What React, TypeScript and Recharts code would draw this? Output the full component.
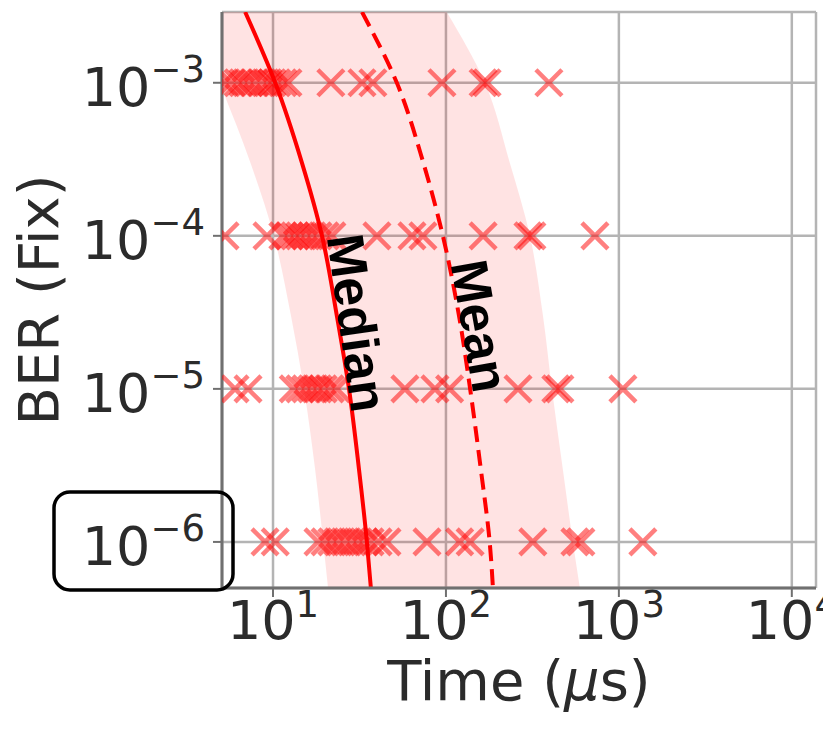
import React from 'react'
import { ComposedChart, XAxis, YAxis, CartesianGrid, Area, Line, Scatter, ReferenceDot, Label } from 'recharts'

// BER levels of the sweep (rows of markers)
const berRows = [1e-3, 1e-4, 1e-5, 1e-6]

// single runs, time in µs, one list per BER row
const runs1e3 = [5.21, 5.72, 6.28, 6.71, 7.27, 7.87, 8.64, 9.36, 9.87, 10.5, 11.4, 12.2, 21.6, 32.7, 37.8, 94.8, 164, 173, 394]
const runs1e4 = [5.28, 9.23, 11.4, 12.4, 13.4, 14.3, 15.5, 16.8, 18.2, 20.0, 21.9, 39.9, 63.6, 73.6, 164, 298, 314, 727]
const runs1e5 = [6.03, 7.17, 13.1, 14.3, 15.5, 16.8, 18.2, 19.5, 21.4, 23.4, 57.9, 86.4, 105, 261, 432, 456, 1055]
const runs1e6 = [8.99, 10.3, 18.2, 20.0, 21.9, 23.8, 26.1, 28.6, 31.0, 33.6, 36.4, 40.5, 45.6, 77.7, 120, 138, 318, 557, 603, 1376]

// fitted curves, read at these BER values
const curveBer = [2.9e-3, 1e-3, 3e-4, 1e-4, 3e-5, 1e-5, 3e-6, 1e-6, 5e-7]
const medianTime = [6.9, 10.3, 14.7, 19.2, 23.4, 27.5, 31.4, 34.9, 36.8]
const meanTime = [32.7, 52, 74, 96, 119, 138, 159, 179, 187]
const bandLow = [3.3, 4.9, 7.4, 10.1, 12.7, 15.1, 17.5, 19.5, 20.8]
const bandHigh = [101, 168, 234, 306, 364, 410, 474, 542, 595]

const xMajor = [10, 100, 1000, 10000]
const xMinor = [6, 7, 8, 9, 20, 30, 40, 50, 60, 70, 80, 90, 200, 300, 400, 500, 600, 700, 800, 900, 2000, 3000, 4000, 5000, 6000, 7000, 8000, 9000]
const yMajor = [1e-6, 1e-5, 1e-4, 1e-3]
const yMinor = [5e-7, 6e-7, 7e-7, 8e-7, 9e-7, 2e-6, 3e-6, 4e-6, 5e-6, 6e-6, 7e-6, 8e-6, 9e-6, 2e-5, 3e-5, 4e-5, 5e-5, 6e-5, 7e-5, 8e-5, 9e-5, 2e-4, 3e-4, 4e-4, 5e-4, 6e-4, 7e-4, 8e-4, 9e-4, 2e-3]

const xDomain = [5.07, 13800]
const yDomain = [5e-7, 2.9e-3]

const notes = [
  { text: 'Median', t: 30.6, ber: 2.7e-5, angle: 82 },
  { text: 'Mean', t: 157, ber: 2.58e-5, angle: 80 },
]

const curveData = curveBer.map((ber, i) => ({
  ber,
  median: medianTime[i],
  mean: meanTime[i],
  band: [bandLow[i], bandHigh[i]],
}))

const runs = [runs1e3, runs1e4, runs1e5, runs1e6].flatMap((row, i) => row.map(t => ({ ber: berRows[i], t })))

const FONT = '"DejaVu Sans", sans-serif'
const INK = '#2b2b2b'
const RED = '#ff0000'
const AXIS = '#707070'

function Cross({ cx, cy }: any) {
  const s = 13
  return (
    <path
      d={`M${cx - s},${cy - s}L${cx + s},${cy + s}M${cx - s},${cy + s}L${cx + s},${cy - s}`}
      stroke={RED}
      strokeOpacity={0.5}
      strokeWidth={4.5}
      fill="none"
    />
  )
}

function XTick({ x, y, payload }: any) {
  const e = Math.round(Math.log10(payload.value))
  return (
    <text x={x} y={y + 36} textAnchor="middle" fontFamily={FONT} fontSize={54} fill={INK}>
      10<tspan fontSize={37} dy={-22}>{e}</tspan>
    </text>
  )
}

function YTick({ x, y, payload }: any) {
  const e = Math.round(Math.log10(payload.value))
  return (
    <g>
      {e === -6 && (
        <rect x={x - 151} y={y - 50} width={179} height={98} rx={16} fill="none" stroke="#000" strokeWidth={3.5} />
      )}
      <text x={x} y={y + 23} textAnchor="end" fontFamily={FONT} fontSize={54} fill={INK}>
        10<tspan fontSize={37} dy={-24}>{'\u2212' + Math.abs(e)}</tspan>
      </text>
    </g>
  )
}

const noTick = () => <g />

export default function App() {
  return (
    <div style={{ position: 'absolute', left: 0, top: 0, width: 823, height: 730, background: '#fff' }}>
      <ComposedChart
        width={823}
        height={730}
        layout="vertical"
        data={curveData}
        margin={{ top: 12, right: 7, bottom: 0, left: 0 }}
      >
        <CartesianGrid stroke="#b4b4b4" strokeWidth={2.5} />

        <XAxis xAxisId="minor" type="number" scale="log" domain={xDomain} allowDataOverflow ticks={xMinor}
          height={0} axisLine={false} tick={noTick} tickSize={5} tickLine={{ stroke: AXIS, strokeWidth: 2 }} />
        <XAxis type="number" scale="log" domain={xDomain} allowDataOverflow ticks={xMajor} height={142}
          axisLine={{ stroke: AXIS, strokeWidth: 3 }} tickLine={{ stroke: AXIS, strokeWidth: 2 }} tickSize={9} tickMargin={6}
          tick={<XTick />} interval={0}>
          <Label
            content={(p: any) => {
              const vb = p.viewBox
              return (
                <text x={vb.x + vb.width / 2} y={vb.y + 112} textAnchor="middle" fontFamily={FONT} fontSize={56} fill={INK}>
                  Time (<tspan fontStyle="italic">μ</tspan>s)
                </text>
              )
            }}
          />
        </XAxis>
        <XAxis xAxisId="top" orientation="top" type="number" scale="log" domain={xDomain} allowDataOverflow
          height={0} tick={false} tickLine={false} axisLine={{ stroke: '#8a8a8a', strokeWidth: 3 }} />

        <YAxis yAxisId="minor" dataKey="ber" type="number" scale="log" domain={yDomain} allowDataOverflow reversed
          ticks={yMinor} width={0} axisLine={false} tick={noTick} tickSize={5} tickLine={{ stroke: AXIS, strokeWidth: 2 }} />
        <YAxis dataKey="ber" type="number" scale="log" domain={yDomain} allowDataOverflow reversed ticks={yMajor}
          width={222} axisLine={{ stroke: AXIS, strokeWidth: 3 }} tickLine={{ stroke: AXIS, strokeWidth: 2 }}
          tickSize={9} tickMargin={8} tick={<YTick />} interval={0}>
          <Label
            content={(p: any) => {
              const vb = p.viewBox
              const cy = vb.y + vb.height / 2
              return (
                <text x={38} y={cy} transform={`rotate(-90 38 ${cy})`} textAnchor="middle" dominantBaseline="central"
                  fontFamily={FONT} fontSize={56} fill={INK}>
                  BER (Fix)
                </text>
              )
            }}
          />
        </YAxis>
        <YAxis yAxisId="right" orientation="right" dataKey="ber" type="number" scale="log" domain={yDomain}
          allowDataOverflow reversed width={0} tick={false} tickLine={false} axisLine={{ stroke: '#8a8a8a', strokeWidth: 3 }} />

        <Area dataKey="band" type="monotone" stroke="none" fill={RED} fillOpacity={0.11} isAnimationActive={false} />
        <Scatter data={runs} dataKey="t" shape={<Cross />} isAnimationActive={false} />
        <Line dataKey="median" type="monotone" stroke={RED} strokeWidth={4} dot={false} isAnimationActive={false} />
        <Line dataKey="mean" type="monotone" stroke={RED} strokeWidth={4} strokeDasharray="16 8" dot={false}
          isAnimationActive={false} />

        {notes.map(n => (
          <ReferenceDot
            key={n.text}
            x={n.t}
            y={n.ber}
            r={0}
            shape={(p: any) => (
              <text x={p.cx} y={p.cy} transform={`rotate(${n.angle} ${p.cx} ${p.cy})`} textAnchor="middle"
                dominantBaseline="central" fontFamily='"Liberation Sans", Arial, sans-serif' fontWeight="bold"
                fontSize={52} fill="#000">
                {n.text}
              </text>
            )}
          />
        ))}
      </ComposedChart>
    </div>
  )
}
